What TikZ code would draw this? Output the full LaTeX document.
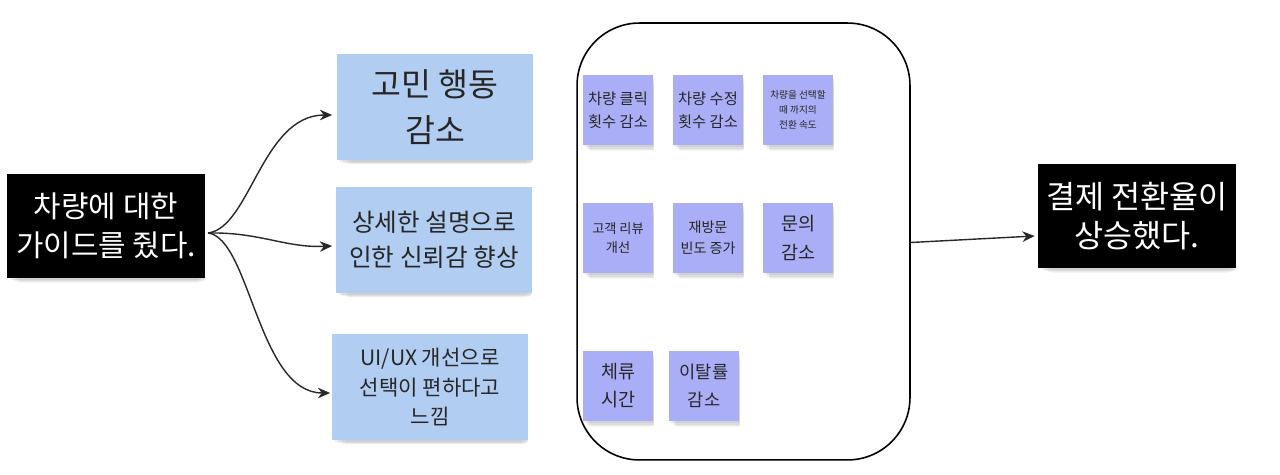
\documentclass[tikz,border=0pt]{standalone}
\usepackage{fontspec}
\setmainfont{Noto Sans CJK KR}
\usetikzlibrary{arrows.meta,shadows}
\definecolor{bluenote}{RGB}{177,205,242}
\definecolor{purplenote}{RGB}{169,174,246}
\definecolor{arrowgray}{RGB}{40,40,40}
\tikzset{
  softshadow/.style={
    drop shadow={shadow xshift=1pt,shadow yshift=-1.5pt,opacity=0.14,shadow scale=0.98},
    drop shadow={shadow xshift=1.5pt,shadow yshift=-3pt,opacity=0.13,shadow scale=0.96},
    drop shadow={shadow xshift=2pt,shadow yshift=-4.5pt,opacity=0.10,shadow scale=0.93},
    drop shadow={shadow xshift=2pt,shadow yshift=-6pt,opacity=0.07,shadow scale=0.90}},
  darkbox/.style={softshadow,fill=black,text=white,minimum width=3.96cm,minimum height=2.1cm,align=center,inner sep=0pt},
  bluebox/.style={softshadow,fill=bluenote,text=black!85,minimum width=3.94cm,minimum height=2.12cm,align=center,inner sep=0pt},
  note/.style={softshadow,fill=purplenote,text=black!85,minimum width=1.4cm,minimum height=1.4cm,align=center,inner sep=0pt},
  conn/.style={draw=arrowgray,line width=0.8pt,-{Stealth[length=7pt,width=6pt]}},
}
\begin{document}
\begin{tikzpicture}[x=0.02cm,y=-0.02cm]
\useasboundingbox (0,0) rectangle (1280,475);
% group frame
\node[draw=black,line width=0.9pt,rounded corners=1.25cm,minimum width=6.66cm,minimum height=8.74cm] (G) at (743.5,241.5) {};
% left and right dark boxes
\node[darkbox,font=\fontsize{17}{22.5}\selectfont] (L) at (106,226) {차량에 대한\\가이드를 줬다.};
\node[darkbox,font=\fontsize{18}{22}\selectfont] (R) at (1137,216) {결제 전환율이\\상승했다.};
% blue boxes
\node[bluebox,font=\fontsize{18.5}{26}\selectfont] (B1) at (435,107) {고민 행동\\감소};
\node[bluebox,font=\fontsize{14}{20}\selectfont] (B2) at (434,240) {상세한 설명으로\\인한 신뢰감 향상};
\node[bluebox,font=\fontsize{12}{17}\selectfont] (B3) at (430,387) {UI/UX 개선으로\\선택이 편하다고\\느낌};
% notes
\node[note,font=\fontsize{8.7}{13}\selectfont] (N1) at (618,110) {차량 클릭\\횟수 감소};
\node[note,font=\fontsize{8.7}{13}\selectfont] (N2) at (708,110) {차량 수정\\횟수 감소};
\node[note,font=\fontsize{5.5}{8.5}\selectfont] (N3) at (798,110) {차량을 선택할\\때 까지의\\전환 속도};
\node[note,font=\fontsize{7.5}{11.3}\selectfont] (N4) at (618,238) {고객 리뷰\\개선};
\node[note,font=\fontsize{8}{12}\selectfont] (N5) at (708,238) {재방문\\빈도 증가};
\node[note,font=\fontsize{10.5}{16}\selectfont] (N6) at (798,238) {문의\\감소};
\node[note,font=\fontsize{10.5}{16}\selectfont] (N7) at (618,386) {체류\\시간};
\node[note,font=\fontsize{10}{16}\selectfont] (N8) at (704,386) {이탈률\\감소};
% connectors
\coordinate (src) at (208,233);
\draw[conn] (src) .. controls (250,228) and (262,115) .. ([xshift=-0.08cm,yshift=-0.16cm]B1.west);
\draw[conn] (src) .. controls (260,232) and (285,248) .. ([xshift=-0.06cm,yshift=-0.12cm]B2.west);
\draw[conn] (src) .. controls (250,238) and (258,393) .. ([xshift=-0.02cm,yshift=-0.12cm]B3.west);
\draw[conn] ([yshift=-0.02cm]G.east) -- ([xshift=-0.06cm,yshift=-0.4cm]R.west);
\end{tikzpicture}
\end{document}
